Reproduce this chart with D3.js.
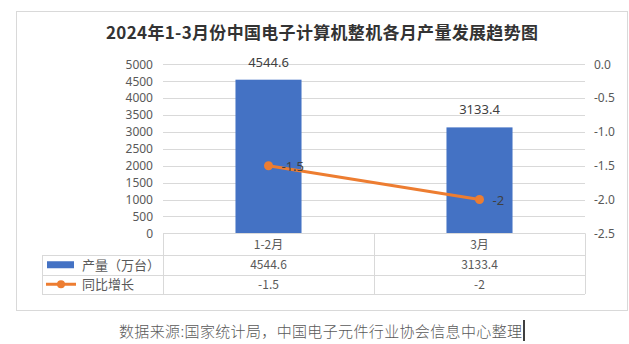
<!DOCTYPE html>
<html>
<head>
<meta charset="utf-8">
<script src="https://cdn.jsdelivr.net/npm/d3@7"></script>
<style>
  body { margin: 0; background: #fff; }
  svg { display: block; font-family: "Noto Sans CJK SC", "Noto Sans", sans-serif; }
</style>
</head>
<body>
<div id="chart"></div>
<script>
var title = '2024年1-3月份中国电子计算机整机各月产量发展趋势图';
var source = '数据来源:国家统计局，中国电子元件行业协会信息中心整理';
var categories = ['1-2月', '3月'];
var seriesNames = ['产量（万台）', '同比增长'];
var output = [4544.6, 3133.4];     // 万台
var growth = [-1.5, -2];           // %
var leftTicks = [0, 500, 1000, 1500, 2000, 2500, 3000, 3500, 4000, 4500, 5000];
var rightTicks = [0, -0.5, -1, -1.5, -2, -2.5];

var W = 629, H = 344;
var plot = {left: 163, right: 585, top: 64.3, bottom: 233.3};
var grid = '#d9d9d9', textGrey = '#595959', dark = '#404040';
var blue = '#4472c4', orange = '#ed7d31';

var svg = d3.select('#chart').append('svg')
    .attr('width', W)
    .attr('height', H);

// outer frame
svg.append('rect')
    .attr('x', 16.5).attr('y', 11.5)
    .attr('width', 611).attr('height', 299)
    .attr('fill', 'none')
    .attr('stroke', grid);

svg.append('text')
    .attr('x', 322).attr('y', 39)
    .attr('text-anchor', 'middle')
    .attr('textLength', 432)
    .style('font-size', '17px')
    .style('font-weight', 'bold')
    .attr('fill', '#333')
    .text(title);

var xScale = d3.scaleBand().domain(categories).range([plot.left, plot.right]);
var yLeft = d3.scaleLinear().domain([0, 5000]).range([plot.bottom, plot.top]);
var yRight = d3.scaleLinear().domain([-2.5, 0]).range([plot.bottom, plot.top]);

// gridlines
svg.append('g').selectAll('line')
    .data(leftTicks)
    .enter().append('line')
    .attr('x1', plot.left).attr('x2', plot.right)
    .attr('y1', function(d) { return Math.round(yLeft(d)) + 0.5; })
    .attr('y2', function(d) { return Math.round(yLeft(d)) + 0.5; })
    .attr('stroke', grid);

var axL = svg.append('g')
    .attr('transform', 'translate(' + plot.left + ',0)')
    .call(d3.axisLeft(yLeft).tickValues(leftTicks).tickSize(0).tickPadding(10).tickFormat(d3.format('d')));
var axR = svg.append('g')
    .attr('transform', 'translate(' + plot.right + ',0)')
    .call(d3.axisRight(yRight).tickValues(rightTicks).tickSize(0).tickPadding(9)
        .tickFormat(function(d) { return d.toFixed(1); }));
[axL, axR].forEach(function(ax) {
    ax.select('.domain').remove();
    ax.selectAll('text').attr('fill', textGrey).style('font-size', '12px')
        .style('font-family', '"Noto Sans", sans-serif');
});

// bars
var barW = xScale.bandwidth() * 0.313;
svg.append('g').selectAll('rect')
    .data(output)
    .enter().append('rect')
    .attr('x', function(d, i) { return xScale(categories[i]) + (xScale.bandwidth() - barW) / 2; })
    .attr('y', function(d) { return yLeft(d); })
    .attr('width', barW)
    .attr('height', function(d) { return plot.bottom - yLeft(d); })
    .attr('fill', blue);

svg.append('g').selectAll('text')
    .data(output)
    .enter().append('text')
    .attr('x', function(d, i) { return xScale(categories[i]) + xScale.bandwidth() / 2; })
    .attr('y', function(d) { return yLeft(d) - 13; })
    .attr('text-anchor', 'middle')
    .attr('fill', dark)
    .style('font-size', '13px')
    .style('font-family', '"Noto Sans", sans-serif')
    .text(function(d) { return d.toFixed(1); });

// growth line
var cx = function(d, i) { return xScale(categories[i]) + xScale.bandwidth() / 2; };
var line = d3.line()
    .x(function(d, i) { return cx(d, i); })
    .y(function(d) { return yRight(d); });

svg.append('path')
    .datum(growth)
    .attr('d', line)
    .attr('fill', 'none')
    .attr('stroke', orange)
    .attr('stroke-width', 3)
    .attr('stroke-linecap', 'round');

svg.append('g').selectAll('circle')
    .data(growth)
    .enter().append('circle')
    .attr('cx', cx)
    .attr('cy', function(d) { return yRight(d); })
    .attr('r', 4.5)
    .attr('fill', orange);

svg.append('g').selectAll('text')
    .data(growth)
    .enter().append('text')
    .attr('x', function(d, i) { return cx(d, i) + 13; })
    .attr('y', function(d) { return yRight(d) + 5; })
    .attr('fill', dark)
    .style('font-size', '13px')
    .style('font-family', '"Noto Sans", sans-serif')
    .text(function(d) { return String(d); });

// data table under the plot
var rowY = [plot.bottom, 255, 274.5, 294];
var tableLeft = 42;
var tbl = svg.append('g').attr('stroke', grid).attr('fill', 'none');
rowY.forEach(function(y, i) {
    tbl.append('line')
        .attr('x1', i === 0 ? plot.left : tableLeft).attr('x2', plot.right)
        .attr('y1', Math.round(y) + 0.5).attr('y2', Math.round(y) + 0.5);
});
var colX = [plot.left].concat(categories.map(function(c) { return xScale(c) + xScale.bandwidth(); }));
colX.forEach(function(x) {
    tbl.append('line')
        .attr('x1', Math.round(x) + 0.5).attr('x2', Math.round(x) + 0.5)
        .attr('y1', rowY[0]).attr('y2', rowY[3]);
});
tbl.append('line')
    .attr('x1', tableLeft + 0.5).attr('x2', tableLeft + 0.5)
    .attr('y1', rowY[1]).attr('y2', rowY[3]);

var cellText = function(txt, x, y) {
    svg.append('text')
        .attr('x', x).attr('y', y)
        .attr('text-anchor', 'middle')
        .attr('fill', textGrey)
        .style('font-size', '12px')
        .text(txt);
};
categories.forEach(function(c, i) {
    var mid = xScale(c) + xScale.bandwidth() / 2;
    cellText(c, mid, (rowY[0] + rowY[1]) / 2 + 4.5);
    cellText(output[i].toFixed(1), mid, (rowY[1] + rowY[2]) / 2 + 4.5);
    cellText(String(growth[i]), mid, (rowY[2] + rowY[3]) / 2 + 4.5);
});

// legend keys in the table
var r1 = (rowY[1] + rowY[2]) / 2, r2 = (rowY[2] + rowY[3]) / 2;
svg.append('rect')
    .attr('x', 47).attr('y', r1 - 3.5)
    .attr('width', 27).attr('height', 7)
    .attr('fill', blue);
svg.append('line')
    .attr('x1', 46).attr('x2', 76)
    .attr('y1', r2).attr('y2', r2)
    .attr('stroke', orange).attr('stroke-width', 3);
svg.append('circle')
    .attr('cx', 61).attr('cy', r2).attr('r', 4)
    .attr('fill', orange);
[r1, r2].forEach(function(y, i) {
    svg.append('text')
        .attr('x', 82).attr('y', y + 5)
        .attr('fill', textGrey)
        .style('font-size', '13px')
        .text(seriesNames[i]);
});

// source line + cursor
svg.append('text')
    .attr('x', 119).attr('y', 337)
    .attr('fill', textGrey)
    .attr('textLength', 403)
    .style('font-size', '15px')
    .style('font-weight', 300)
    .text(source);
svg.append('line')
    .attr('x1', 524).attr('x2', 524)
    .attr('y1', 320).attr('y2', 341)
    .attr('stroke', '#000').attr('stroke-width', 1.5);
</script>
</body>
</html>
